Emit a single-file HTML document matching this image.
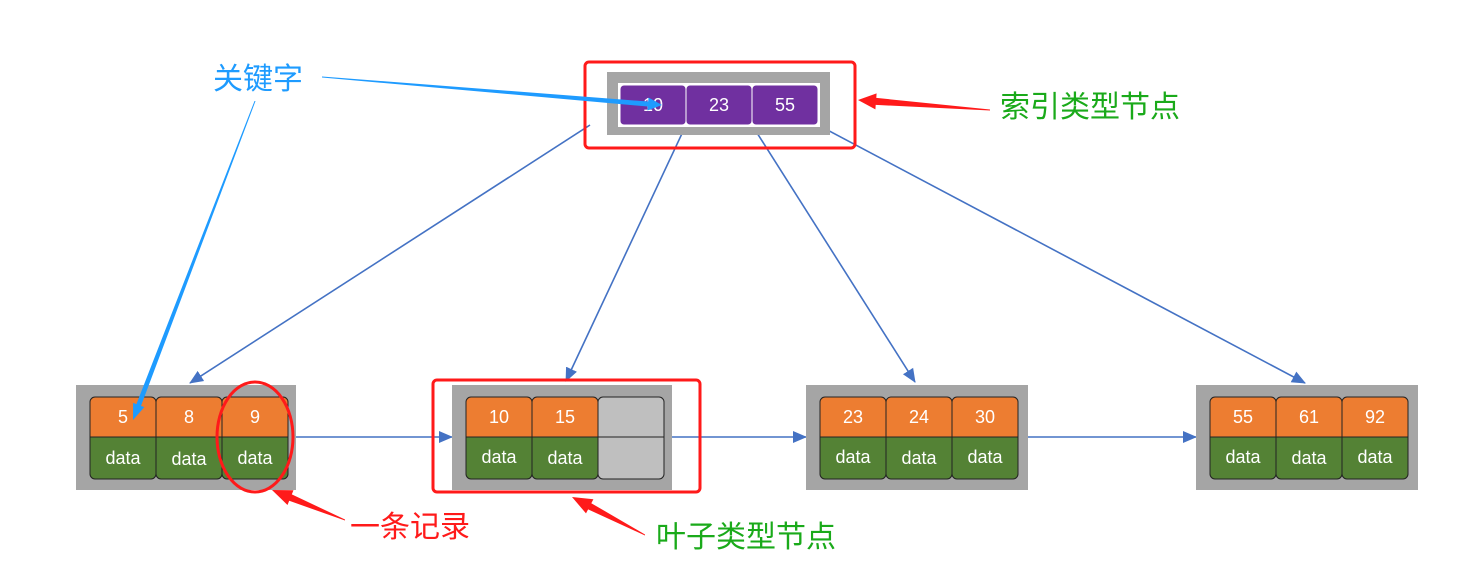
<!DOCTYPE html>
<html><head><meta charset="utf-8"><style>
html,body{margin:0;padding:0;background:#fff;}
svg{display:block;}
text{font-family:"Liberation Sans","Noto Sans CJK SC",sans-serif;}
</style></head><body>
<svg width="1479" height="584" viewBox="0 0 1479 584" xmlns="http://www.w3.org/2000/svg">
<defs>
<marker id="ah" markerWidth="10" markerHeight="10" refX="9" refY="5" orient="auto" markerUnits="userSpaceOnUse" viewBox="0 0 10 10">
<path d="M0,0 L10,5 L0,10 Z" fill="#4472c4"/>
</marker>
<marker id="ah2" markerWidth="14" markerHeight="14" refX="13" refY="7" orient="auto" markerUnits="userSpaceOnUse" viewBox="0 0 14 14">
<path d="M0,1 L14,7 L0,13 Z" fill="#4472c4"/>
</marker>
</defs>
<!-- connector lines -->
<g stroke="#4472c4" stroke-width="1.6" fill="none">
<line x1="590" y1="125" x2="190" y2="383" marker-end="url(#ah2)"/>
<line x1="686" y1="125" x2="566" y2="381" marker-end="url(#ah2)"/>
<line x1="752" y1="125" x2="915" y2="382" marker-end="url(#ah2)"/>
<line x1="818" y1="125" x2="1305" y2="383" marker-end="url(#ah2)"/>
<line x1="296" y1="437" x2="452" y2="437" marker-end="url(#ah2)"/>
<line x1="672" y1="437" x2="806" y2="437" marker-end="url(#ah2)"/>
<line x1="1028" y1="437" x2="1196" y2="437" marker-end="url(#ah2)"/>
</g>
<!-- top node -->
<rect x="607" y="72" width="223" height="63" fill="#a5a5a5"/>
<rect x="618" y="83" width="202" height="44" fill="#fff"/>
<g fill="#7030a0" stroke="#fff" stroke-width="1">
<rect x="620" y="85" width="66" height="40" rx="4"/>
<rect x="686" y="85" width="66" height="40" rx="4"/>
<rect x="752" y="85" width="66" height="40" rx="4"/>
</g>
<g fill="#fff" font-size="18" text-anchor="middle">
<text x="653" y="111">10</text><text x="719" y="111">23</text><text x="785" y="111">55</text>
</g>
<rect x="585" y="62" width="270" height="86" rx="4" fill="none" stroke="#ff1a1a" stroke-width="3"/>

<!-- leaf nodes -->
<g id="leaves">
<rect x="76" y="385" width="220" height="105" fill="#a5a5a5"/>
<rect x="452" y="385" width="220" height="105" fill="#a5a5a5"/>
<rect x="806" y="385" width="222" height="105" fill="#a5a5a5"/>
<rect x="1196" y="385" width="222" height="105" fill="#a5a5a5"/>
</g>
<g stroke="#222" stroke-width="1">
<!-- leaf 1 -->
<path d="M90,437 V402 a5,5 0 0 1 5,-5 H151 a5,5 0 0 1 5,5 V437 Z" fill="#ed7d31"/>
<path d="M156,437 V402 a5,5 0 0 1 5,-5 H217 a5,5 0 0 1 5,5 V437 Z" fill="#ed7d31"/>
<path d="M222,437 V402 a5,5 0 0 1 5,-5 H283 a5,5 0 0 1 5,5 V437 Z" fill="#ed7d31"/>
<path d="M90,437 V474 a5,5 0 0 0 5,5 H151 a5,5 0 0 0 5,-5 V437 Z" fill="#548235"/>
<path d="M156,437 V474 a5,5 0 0 0 5,5 H217 a5,5 0 0 0 5,-5 V437 Z" fill="#548235"/>
<path d="M222,437 V474 a5,5 0 0 0 5,5 H283 a5,5 0 0 0 5,-5 V437 Z" fill="#548235"/>
<!-- leaf 2 -->
<path d="M466,437 V402 a5,5 0 0 1 5,-5 H527 a5,5 0 0 1 5,5 V437 Z" fill="#ed7d31"/>
<path d="M532,437 V402 a5,5 0 0 1 5,-5 H593 a5,5 0 0 1 5,5 V437 Z" fill="#ed7d31"/>
<path d="M598,437 V402 a5,5 0 0 1 5,-5 H659 a5,5 0 0 1 5,5 V437 Z" fill="#bfbfbf"/>
<path d="M466,437 V474 a5,5 0 0 0 5,5 H527 a5,5 0 0 0 5,-5 V437 Z" fill="#548235"/>
<path d="M532,437 V474 a5,5 0 0 0 5,5 H593 a5,5 0 0 0 5,-5 V437 Z" fill="#548235"/>
<path d="M598,437 V474 a5,5 0 0 0 5,5 H659 a5,5 0 0 0 5,-5 V437 Z" fill="#bfbfbf"/>
<!-- leaf 3 -->
<path d="M820,437 V402 a5,5 0 0 1 5,-5 H881 a5,5 0 0 1 5,5 V437 Z" fill="#ed7d31"/>
<path d="M886,437 V402 a5,5 0 0 1 5,-5 H947 a5,5 0 0 1 5,5 V437 Z" fill="#ed7d31"/>
<path d="M952,437 V402 a5,5 0 0 1 5,-5 H1013 a5,5 0 0 1 5,5 V437 Z" fill="#ed7d31"/>
<path d="M820,437 V474 a5,5 0 0 0 5,5 H881 a5,5 0 0 0 5,-5 V437 Z" fill="#548235"/>
<path d="M886,437 V474 a5,5 0 0 0 5,5 H947 a5,5 0 0 0 5,-5 V437 Z" fill="#548235"/>
<path d="M952,437 V474 a5,5 0 0 0 5,5 H1013 a5,5 0 0 0 5,-5 V437 Z" fill="#548235"/>
<!-- leaf 4 -->
<path d="M1210,437 V402 a5,5 0 0 1 5,-5 H1271 a5,5 0 0 1 5,5 V437 Z" fill="#ed7d31"/>
<path d="M1276,437 V402 a5,5 0 0 1 5,-5 H1337 a5,5 0 0 1 5,5 V437 Z" fill="#ed7d31"/>
<path d="M1342,437 V402 a5,5 0 0 1 5,-5 H1403 a5,5 0 0 1 5,5 V437 Z" fill="#ed7d31"/>
<path d="M1210,437 V474 a5,5 0 0 0 5,5 H1271 a5,5 0 0 0 5,-5 V437 Z" fill="#548235"/>
<path d="M1276,437 V474 a5,5 0 0 0 5,5 H1337 a5,5 0 0 0 5,-5 V437 Z" fill="#548235"/>
<path d="M1342,437 V474 a5,5 0 0 0 5,5 H1403 a5,5 0 0 0 5,-5 V437 Z" fill="#548235"/>
</g>
<g fill="#fff" font-size="18" text-anchor="middle">
<text x="123" y="423">5</text><text x="189" y="423">8</text><text x="255" y="423">9</text>
<text x="499" y="423">10</text><text x="565" y="423">15</text>
<text x="853" y="423">23</text><text x="919" y="423">24</text><text x="985" y="423">30</text>
<text x="1243" y="423">55</text><text x="1309" y="423">61</text><text x="1375" y="423">92</text>
<text x="123" y="464">data</text><text x="189" y="465">data</text><text x="255" y="464">data</text>
<text x="499" y="463">data</text><text x="565" y="464">data</text>
<text x="853" y="463">data</text><text x="919" y="464">data</text><text x="985" y="463">data</text>
<text x="1243" y="463">data</text><text x="1309" y="464">data</text><text x="1375" y="463">data</text>
</g>
<!-- red annotations -->
<rect x="433" y="380" width="267" height="112" rx="4" fill="none" stroke="#ff1a1a" stroke-width="3"/>
<ellipse cx="255" cy="437" rx="38" ry="55" fill="none" stroke="#ff1a1a" stroke-width="3"/>
<g fill="#ff1a1a">
<polygon points="990,109.5 876.3,97.9 876.6,93.4 858,100 875.4,109.4 875.7,104.9 990,110.5"/>
<polygon points="345,519.5 291.8,494.4 293.5,490.2 272,490 287.5,505 289.2,500.8 345,520.5"/>
<polygon points="645,534.5 591.3,503.2 593.4,499.2 572,497 586,513.4 588.1,509.4 645,535.5"/>
</g>
<!-- blue annotation arrows -->
<g fill="#1e9bff">
<polygon points="322,76.5 648.2,101.5 648.5,97.5 662,105 647.5,110.5 647.8,106.5 322,77.5"/>
<polygon points="255.5,101 141,405.9 144.3,407.1 133,420 133.1,402.9 136.4,404.1 254.5,101"/>
</g>
<!-- labels -->
<text x="213" y="89" font-size="30" fill="#1e9bff">关键字</text>
<text x="1000" y="117" font-size="30" fill="#1aaa1a">索引类型节点</text>
<text x="350" y="537" font-size="30" fill="#ff1a1a">一条记录</text>
<text x="656" y="547" font-size="30" fill="#1aaa1a">叶子类型节点</text>
</svg>
</body></html>
